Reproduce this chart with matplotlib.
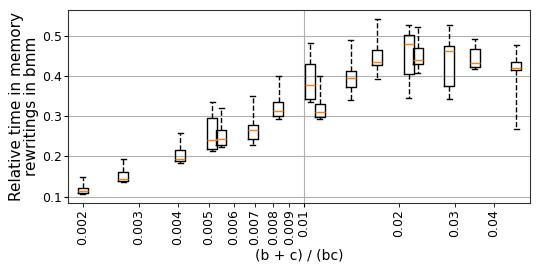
import matplotlib
matplotlib.use("Agg")
import matplotlib.pyplot as plt
from matplotlib.ticker import FixedLocator, FixedFormatter

positions = [0.00200, 0.00268, 0.00407, 0.00513, 0.00548, 0.00690, 0.00832,
             0.01050, 0.01124, 0.01409, 0.01706, 0.02150, 0.02296, 0.02890,
             0.03480, 0.04710]
whislo = [0.107, 0.136, 0.184, 0.214, 0.223, 0.228, 0.294, 0.335, 0.293, 0.341,
          0.393, 0.346, 0.408, 0.343, 0.418, 0.267]
q1 = [0.109, 0.139, 0.189, 0.218, 0.228, 0.243, 0.300, 0.343, 0.299, 0.372,
      0.426, 0.404, 0.430, 0.375, 0.423, 0.414]
med = [0.115, 0.143, 0.194, 0.240, 0.242, 0.265, 0.314, 0.377, 0.310, 0.395,
       0.434, 0.480, 0.439, 0.463, 0.433, 0.420]
q3 = [0.121, 0.160, 0.215, 0.295, 0.265, 0.278, 0.334, 0.430, 0.330, 0.413,
      0.464, 0.501, 0.470, 0.475, 0.468, 0.435]
whishi = [0.149, 0.193, 0.259, 0.334, 0.321, 0.351, 0.400, 0.483, 0.399, 0.490,
          0.541, 0.527, 0.522, 0.526, 0.492, 0.476]

major_ticks = [0.01]
major_labels = ["0.01"]
minor_ticks = [0.002, 0.003, 0.004, 0.005, 0.006, 0.007, 0.008, 0.009, 0.02, 0.03, 0.04]
minor_labels = ["0.002", "0.003", "0.004", "0.005", "0.006", "0.007", "0.008",
                "0.009", "0.02", "0.03", "0.04"]
y_ticks = [0.1, 0.2, 0.3, 0.4, 0.5]

fig = plt.figure(figsize=(5.4, 2.7), dpi=100)
ax = fig.add_axes([0.126, 0.248, 0.855, 0.715])

stats = []
for i in range(len(positions)):
    stats.append(dict(whislo=whislo[i], q1=q1[i], med=med[i], q3=q3[i],
                      whishi=whishi[i], fliers=[]))
widths = [0.073 * p for p in positions]
ax.bxp(stats, positions=positions, widths=widths, manage_ticks=False,
       whiskerprops=dict(linestyle="--", color="black", linewidth=1),
       boxprops=dict(color="black", linewidth=1),
       capprops=dict(color="black", linewidth=1),
       medianprops=dict(color="#ff7f0e", linewidth=1))

ax.set_xscale("log")
ax.set_xlim(0.001795, 0.0519)
ax.set_ylim(0.084, 0.564)
ax.set_yticks(y_ticks)
ax.xaxis.set_major_locator(FixedLocator(major_ticks))
ax.xaxis.set_major_formatter(FixedFormatter(major_labels))
ax.xaxis.set_minor_locator(FixedLocator(minor_ticks))
ax.xaxis.set_minor_formatter(FixedFormatter(minor_labels))
ax.tick_params(axis="x", which="both", labelrotation=90, labelsize=9,
               length=3, pad=1.5)
ax.tick_params(axis="y", labelsize=9, length=3, pad=1.2)
ax.grid(True, which="major", color="#b0b0b0", linewidth=0.8)
ax.set_axisbelow(True)
for s in ax.spines.values():
    s.set_color("#333333")

ax.set_xlabel("(b + c) / (bc)", fontsize=10, labelpad=2)
ax.set_ylabel("Relative time in memory\nrewritings in bmm", fontsize=11,
              labelpad=2, linespacing=1.0)

fig.savefig("out.png", dpi=100)
